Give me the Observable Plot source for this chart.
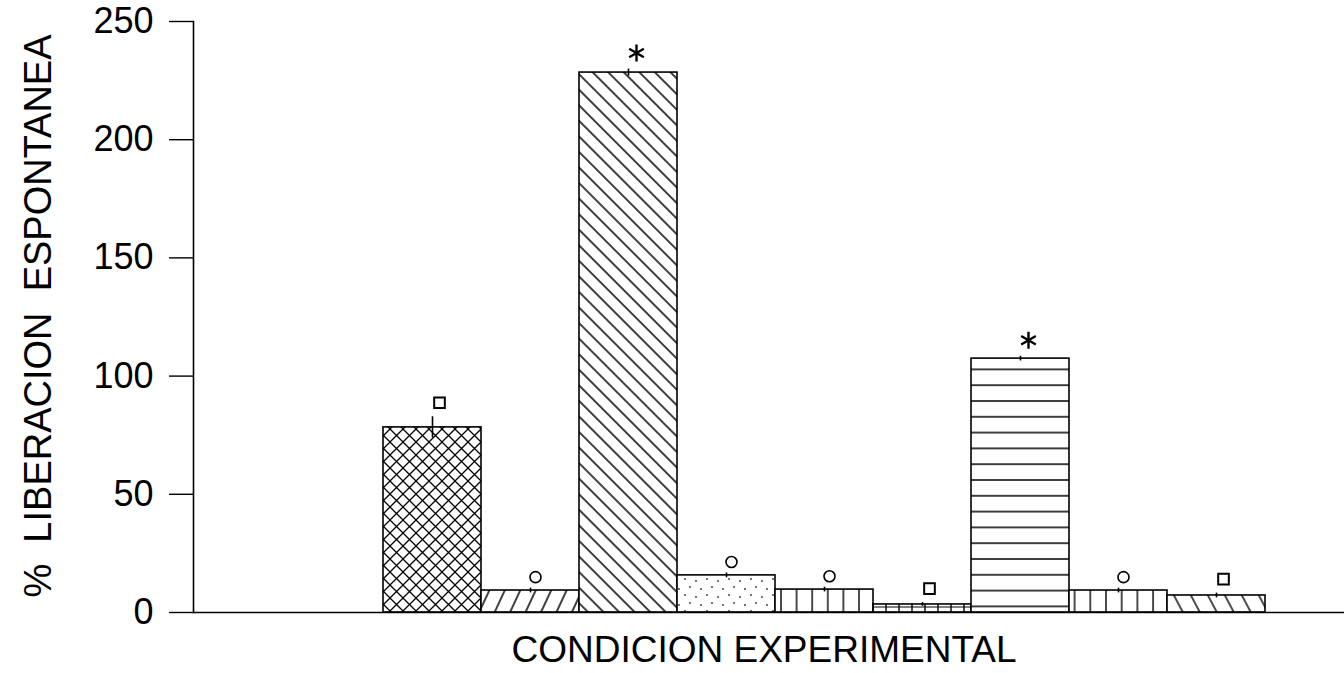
<!DOCTYPE html>
<html>
<head>
<meta charset="utf-8">
<script src="https://cdn.jsdelivr.net/npm/d3@7"></script>
<script src="https://cdn.jsdelivr.net/npm/@observablehq/plot@0.6"></script>
<style>
  html, body { margin: 0; padding: 0; background: #fff; }
  #chart { width: 1344px; height: 673px; }
</style>
</head>
<body>
<div id="chart"></div>
<script>
// ---- data ----
const categories = ["C1", "C2", "C3", "C4", "C5", "C6", "C7", "C8", "C9"];
const values     = [78.3, 9.3, 228.4, 15.7, 9.7, 3.4, 107.4, 9.3, 7.2];
const errors     = [4.5, 1.0, 1.5, 1.0, 1.0, 0.8, 1.0, 1.0, 1.0];
const markers    = ["square", "circle", "asterisk", "circle", "circle", "square", "asterisk", "circle", "square"];
const patterns   = ["p1", "p2", "p3", "p4", "p5", "p6", "p7", "p8", "p9"];
const yTicks     = [0, 50, 100, 150, 200, 250];
const xLabel = "CONDICION EXPERIMENTAL";
const yLabel = "%\u00a0 LIBERACION\u00a0 ESPONTANEA";

const data = categories.map((c, i) => ({
  cat: c, value: values[i], err: errors[i], marker: markers[i], fill: `url(#${patterns[i]})`
}));

const FONT = "'Liberation Sans', Arial, Helvetica, sans-serif";

const plot = Plot.plot({
  width: 1344,
  height: 673,
  marginLeft: 193,
  marginRight: 0,
  marginTop: 21,
  marginBottom: 61,
  style: { fontFamily: FONT, fontSize: "36px", background: "#fff", color: "#000" },
  x: { type: "band", domain: categories, range: [381, 1266], padding: 0, axis: null },
  y: { domain: [0, 250], label: null, ticks: yTicks },
  color: { type: "identity" },
  marks: [
    Plot.barY(data, { x: "cat", y: "value", fill: "fill", stroke: "#000", strokeWidth: 1.6 }),
    Plot.ruleX(data, { x: "cat", y1: d => d.value - d.err, y2: d => d.value + d.err, stroke: "#000", strokeWidth: 1.6 }),
    Plot.dot(data, { filter: d => d.marker === "square", x: "cat", y: d => d.value + d.err, dx: 7, dy: -14,
      symbol: "square", r: 6, stroke: "#000", strokeWidth: 2, fill: "#fff" }),
    Plot.dot(data, { filter: d => d.marker === "circle", x: "cat", y: d => d.value + d.err, dx: 5, dy: -11,
      symbol: "circle", r: 5.5, stroke: "#000", strokeWidth: 1.6, fill: "#fff" }),
    Plot.dot(data, { filter: d => d.marker === "asterisk", x: "cat", y: d => d.value + d.err, dx: 8, dy: -16,
      symbol: "asterisk", r: 8, stroke: "#000", strokeWidth: 2.4 }),
    Plot.ruleY([0], { stroke: "#000", strokeWidth: 1.6 }),
    Plot.frame({ anchor: "left", stroke: "#000", strokeWidth: 1.6 }),
    Plot.axisY({ ticks: yTicks, tickSize: 24, tickPadding: 16, fontSize: 36, label: null, strokeWidth: 1.4 }),
    Plot.text([xLabel], { frameAnchor: "bottom", dx: -5, dy: 49, lineAnchor: "bottom", fontSize: 37, fill: "#000" }),
    Plot.text([yLabel], { frameAnchor: "left", textAnchor: "middle", rotate: -90, dx: -143, dy: -1, lineAnchor: "bottom", fontSize: 38, fill: "#000" })
  ]
});

// SVG hatch patterns used as bar fills
const defs = `
<defs>
  <pattern id="p1" patternUnits="userSpaceOnUse" width="13" height="13">
    <rect width="13" height="13" fill="#fff"/>
    <path d="M-1,-1L14,14M14,-1L-1,14" stroke="#000" stroke-width="1.3"/>
  </pattern>
  <pattern id="p2" patternUnits="userSpaceOnUse" width="14" height="60" patternTransform="rotate(25)">
    <rect width="14" height="60" fill="#fff"/>
    <line x1="7" y1="0" x2="7" y2="60" stroke="#000" stroke-width="1.5"/>
  </pattern>
  <pattern id="p3" patternUnits="userSpaceOnUse" width="11" height="60" patternTransform="rotate(-45)">
    <rect width="11" height="60" fill="#fff"/>
    <line x1="5" y1="0" x2="5" y2="60" stroke="#000" stroke-width="1.5"/>
  </pattern>
  <pattern id="p4" patternUnits="userSpaceOnUse" width="22" height="16">
    <rect width="22" height="16" fill="#fff"/>
    <circle cx="3" cy="3" r="0.9" fill="#333"/>
    <circle cx="14" cy="5" r="0.9" fill="#333"/>
    <circle cx="8" cy="11" r="0.9" fill="#333"/>
    <circle cx="19" cy="13" r="0.9" fill="#333"/>
  </pattern>
  <pattern id="p5" patternUnits="userSpaceOnUse" width="15.6" height="20">
    <rect width="15.6" height="20" fill="#fff"/>
    <line x1="1" y1="0" x2="1" y2="20" stroke="#000" stroke-width="1.4"/>
  </pattern>
  <pattern id="p6" patternUnits="userSpaceOnUse" width="13" height="8">
    <rect width="13" height="8" fill="#fff"/>
    <line x1="2" y1="0" x2="2" y2="8" stroke="#000" stroke-width="1.4"/>
    <line x1="0" y1="7" x2="13" y2="7" stroke="#000" stroke-width="1"/>
  </pattern>
  <pattern id="p7" patternUnits="userSpaceOnUse" width="20" height="15.8" y="5">
    <rect width="20" height="15.8" fill="#fff"/>
    <line x1="0" y1="1" x2="20" y2="1" stroke="#000" stroke-width="1.5"/>
  </pattern>
  <pattern id="p8" patternUnits="userSpaceOnUse" width="15.7" height="20" x="6">
    <rect width="15.7" height="20" fill="#fff"/>
    <line x1="1" y1="0" x2="1" y2="20" stroke="#000" stroke-width="1.4"/>
  </pattern>
  <pattern id="p9" patternUnits="userSpaceOnUse" width="15" height="60" patternTransform="rotate(-28)">
    <rect width="15" height="60" fill="#fff"/>
    <line x1="7" y1="0" x2="7" y2="60" stroke="#000" stroke-width="1.4"/>
  </pattern>
</defs>`;
plot.insertAdjacentHTML("afterbegin", defs);

document.getElementById("chart").appendChild(plot);
</script>
</body>
</html>
